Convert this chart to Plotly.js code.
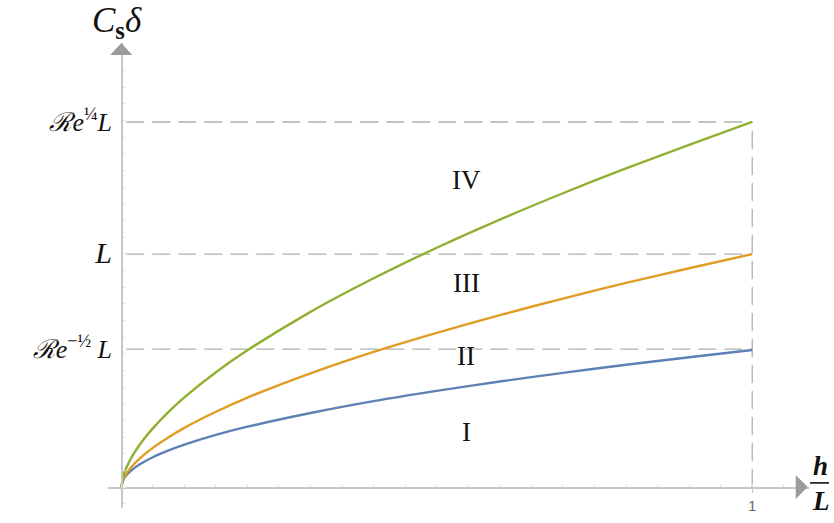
<!DOCTYPE html>
<html>
<head>
<meta charset="utf-8">
<script src="https://cdn.plot.ly/plotly-3.0.1.min.js"></script>
<style>
  html, body { margin: 0; padding: 0; background: #ffffff; }
  #chart { width: 834px; height: 523px; }
</style>
</head>
<body>
<div id="chart"></div>
<script>
// Scaled gap h/L along the horizontal axis
const hOverL = [0, 0.005, 0.01, 0.02, 0.035, 0.05, 0.075, 0.1, 0.15, 0.2, 0.3, 0.4, 0.5, 0.6, 0.7, 0.8, 0.9, 1.0];

// Regime boundaries C_s·δ (in units of L)
const boundaryI_II   = [0, 0.040, 0.056, 0.080, 0.106, 0.128, 0.157, 0.182, 0.224, 0.259, 0.318, 0.369, 0.413, 0.453, 0.490, 0.525, 0.557, 0.588];
const boundaryII_III = [0, 0.043, 0.065, 0.098, 0.136, 0.168, 0.214, 0.254, 0.323, 0.384, 0.488, 0.58, 0.662, 0.738, 0.809, 0.876, 0.939, 1.0];
const boundaryIII_IV = [0, 0.062, 0.094, 0.144, 0.203, 0.252, 0.323, 0.385, 0.493, 0.587, 0.752, 0.896, 1.027, 1.148, 1.261, 1.368, 1.469, 1.567];

// Vertical-axis reference levels and their labels
const levelValues = [0.592, 1.0, 1.567];
const levelLabels = [
  '<i>ℛe</i><sup>−½</sup><i> L</i>',
  '<span style="font-size:30px"><i>L</i></span>',
  '<i>ℛe</i><sup>¼</sup><i>L</i>'
];

// Regime names and where they sit
const regimeNames = ['I', 'II', 'III', 'IV'];
const regimeLevels = [0.236, 0.562, 0.876, 1.318];
const regimeColumn = 0.547;

const xRange = [-0.021, 1.09];
const yRange = [-0.09, 1.906];

const axisGray = '#c6c6c6';
const arrowGray = '#9b9b9b';
const dashGray = '#b0b0b0';

const curve = (y, color) => ({
  x: hOverL, y: y, type: 'scatter', mode: 'lines',
  line: { color: color, width: 2.4, shape: 'spline', smoothing: 0.8 },
  hoverinfo: 'skip', showlegend: false
});

const traces = [
  curve(boundaryI_II, '#5E81B5'),
  curve(boundaryII_III, '#E19C24'),
  curve(boundaryIII_IV, '#8FB032')
];

const xFrac = v => (v - xRange[0]) / (xRange[1] - xRange[0]);
const yFrac = v => (v - yRange[0]) / (yRange[1] - yRange[0]);

const shapes = [];
// dashed reference levels
levelValues.forEach(v => {
  shapes.push({
    type: 'line', xref: 'x', yref: 'y', x0: 0.008, x1: 1, y0: v, y1: v,
    line: { color: dashGray, width: 1.3, dash: '18px,8px' }, layer: 'below'
  });
});
// dashed line at h/L = 1
shapes.push({
  type: 'line', xref: 'x', yref: 'y', x0: 1, x1: 1, y0: 0, y1: levelValues[2],
  line: { color: dashGray, width: 1.3, dash: '18px,8px' }, layer: 'below'
});
// axis arrowheads
shapes.push({
  type: 'path', xref: 'x', yref: 'y', xsizemode: 'pixel', ysizemode: 'pixel',
  xanchor: 0, yanchor: yRange[1],
  path: 'M0,0 L-11,-12 L11,-12 Z', fillcolor: arrowGray, line: { width: 0 }
});
shapes.push({
  type: 'path', xref: 'x', yref: 'y', xsizemode: 'pixel', ysizemode: 'pixel',
  xanchor: xRange[1] - 0.002, yanchor: 0,
  path: 'M0,0 L-12,12 L-12,-12 Z', fillcolor: arrowGray, line: { width: 0 }
});
// fraction bar of h/L
shapes.push({
  type: 'line', xref: 'paper', yref: 'paper',
  x0: 1.0015, x1: 1.0285, y0: 0.054, y1: 0.054,
  line: { color: '#111', width: 1.6 }
});

const serif = 'Liberation Serif, DejaVu Serif, serif';

const annotations = regimeNames.map((name, i) => ({
  x: regimeColumn, y: regimeLevels[i], xref: 'x', yref: 'y',
  text: name, showarrow: false, xanchor: 'center', yanchor: 'middle',
  font: { family: serif, size: 27, color: '#111' }
}));

annotations.push({
  x: 0.013, y: 1.045, xref: 'paper', yref: 'paper',
  text: '<i>C</i><sub><b>s</b></sub><i>δ</i>', showarrow: false,
  xanchor: 'center', yanchor: 'middle',
  font: { family: serif, size: 35, color: '#111' }
});
annotations.push({
  x: 1.016, y: 0.09, xref: 'paper', yref: 'paper',
  text: '<b><i>h</i></b>', showarrow: false, xanchor: 'center', yanchor: 'middle',
  font: { family: serif, size: 27, color: '#111' }
});
annotations.push({
  x: 1.017, y: 0.016, xref: 'paper', yref: 'paper',
  text: '<b><i>L</i></b>', showarrow: false, xanchor: 'center', yanchor: 'middle',
  font: { family: serif, size: 27, color: '#111' }
});

const layout = {
  width: 834, height: 523,
  margin: { l: 107.7, r: 24.9, t: 43, b: 14.9, pad: 0 },
  paper_bgcolor: '#ffffff', plot_bgcolor: '#ffffff',
  showlegend: false,
  xaxis: {
    range: xRange, anchor: 'free', position: yFrac(0),
    showline: true, linecolor: axisGray, linewidth: 1.5,
    zeroline: false, showgrid: false,
    tickmode: 'array', tickvals: [1], ticktext: ['1'],
    ticks: 'outside', ticklen: 4, tickcolor: axisGray, tickwidth: 1,
    tickfont: { family: 'Liberation Sans, Arial, sans-serif', size: 15, color: '#666' },
    minor: { tickmode: 'linear', tick0: 0, dtick: 0.05, ticks: 'inside', ticklen: 3, tickcolor: '#e2e2e2', tickwidth: 1 },
    fixedrange: true
  },
  yaxis: {
    range: yRange, anchor: 'free', position: xFrac(0),
    showline: true, linecolor: axisGray, linewidth: 1.5,
    zeroline: false, showgrid: false,
    tickmode: 'array', tickvals: levelValues, ticktext: levelLabels,
    ticks: 'outside', ticklen: 4, tickcolor: '#ffffff',
    tickfont: { family: serif, size: 26, color: '#111' },
    minor: { tickmode: 'linear', tick0: 0, dtick: 0.0715, ticks: 'inside', ticklen: 3, tickcolor: '#e6e6e6', tickwidth: 1 },
    fixedrange: true
  },
  shapes: shapes,
  annotations: annotations
};

Plotly.newPlot('chart', traces, layout, { displayModeBar: false, staticPlot: true });
</script>
</body>
</html>
